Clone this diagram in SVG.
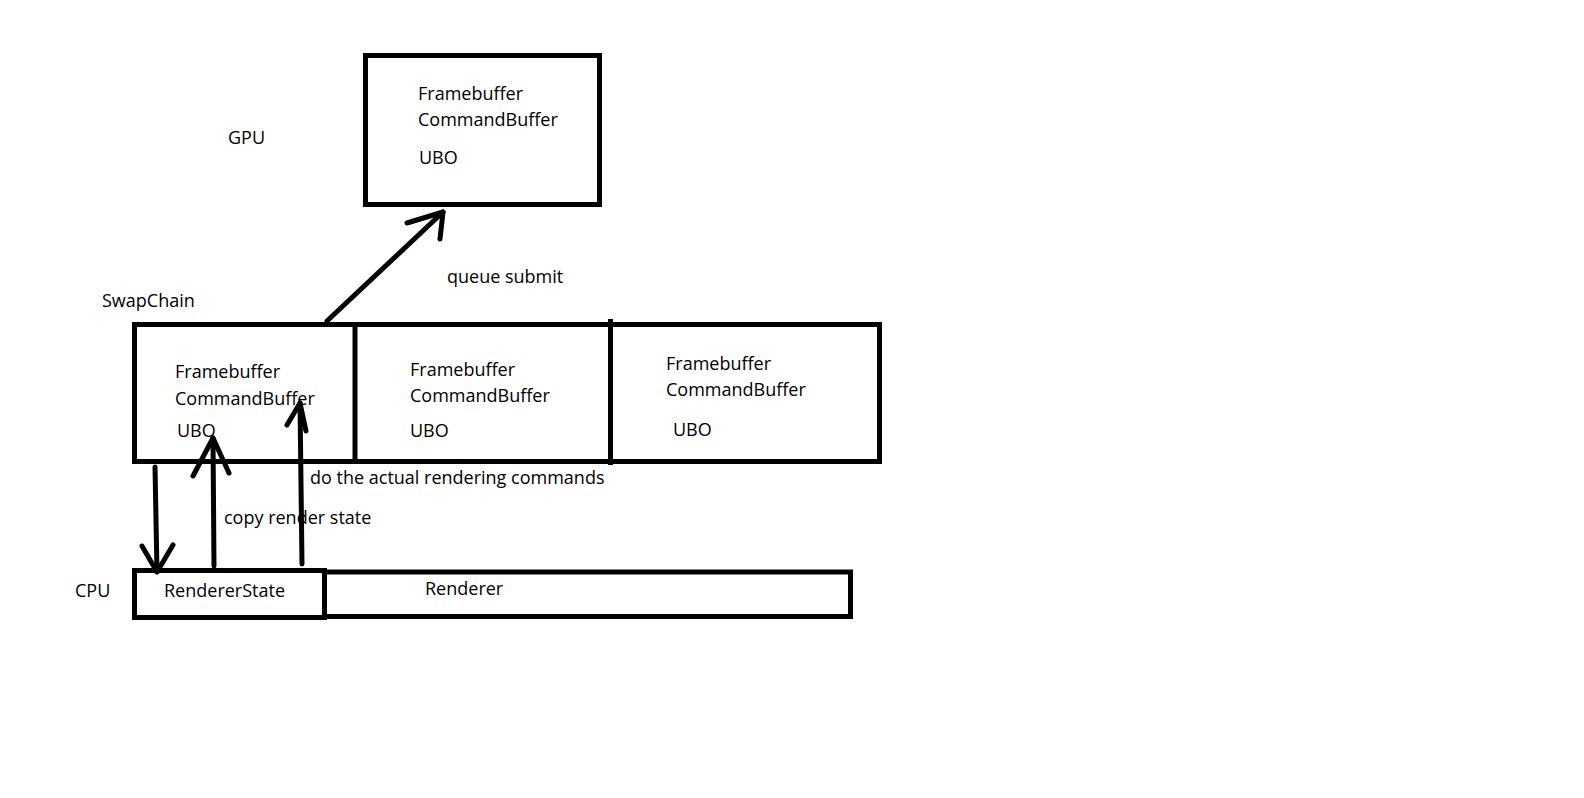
<svg xmlns="http://www.w3.org/2000/svg" width="1584" height="798" viewBox="0 0 1584 798">
<style>
.box{fill:none;stroke:#000;stroke-width:5}
.ln{fill:none;stroke:#000;stroke-width:5;stroke-linecap:round;stroke-linejoin:round}
text{font-family:"Open Sans","Noto Sans","Liberation Sans",sans-serif;font-size:18px;fill:#000}
</style>
<rect width="1584" height="798" fill="#fff"/>
<g id="labels">
<text x="228" y="144">GPU</text>
<text x="102" y="307">SwapChain</text>
<text x="75" y="597">CPU</text>
<text x="447" y="283">queue submit</text>
<text x="310" y="484">do the actual rendering commands</text>
<text x="224" y="524">copy render state</text>
</g>
<g id="gpu">
<rect class="box" x="365.5" y="55.5" width="234" height="149"/>
<text x="418" y="100">Framebuffer</text>
<text x="418" y="126">CommandBuffer</text>
<text x="419" y="164">UBO</text>
</g>
<g id="swapchain">
<rect class="box" x="134.5" y="324.5" width="745" height="137"/>
<line class="box" x1="355" y1="324" x2="355" y2="462"/>
<line class="box" x1="610.5" y1="319" x2="610.5" y2="465"/>
</g>
<g id="frame1">
<text x="175" y="378">Framebuffer</text>
<text x="175" y="405">CommandBuffer</text>
<text x="177" y="437">UBO</text>
</g>
<g id="frame2">
<text x="410" y="376">Framebuffer</text>
<text x="410" y="402">CommandBuffer</text>
<text x="410" y="437">UBO</text>
</g>
<g id="frame3">
<text x="666" y="370">Framebuffer</text>
<text x="666" y="396">CommandBuffer</text>
<text x="673" y="436">UBO</text>
</g>
<g id="rendererstate">
<rect class="box" x="134.5" y="570.5" width="190" height="47"/>
<text x="164" y="597">RendererState</text>
</g>
<g id="renderer">
<path class="box" d="M324.5 572 H850.5 V616.5 H324.5"/>
<text x="425" y="595">Renderer</text>
</g>
<g id="connectors">
<path class="ln" d="M327 321 L443 212"/>
<path class="ln" d="M407 223 L443 212 L440 239"/>
<path class="ln" d="M155 467 L157 572"/>
<path class="ln" d="M142 546 L157 572 L173 545"/>
<path class="ln" d="M214 566 L213 438"/>
<path class="ln" d="M193 476 L213 438 L229 473"/>
<path class="ln" d="M302 564 L300 403"/>
<path class="ln" d="M287 425 L300 403 L306 431"/>
</g>
</svg>
